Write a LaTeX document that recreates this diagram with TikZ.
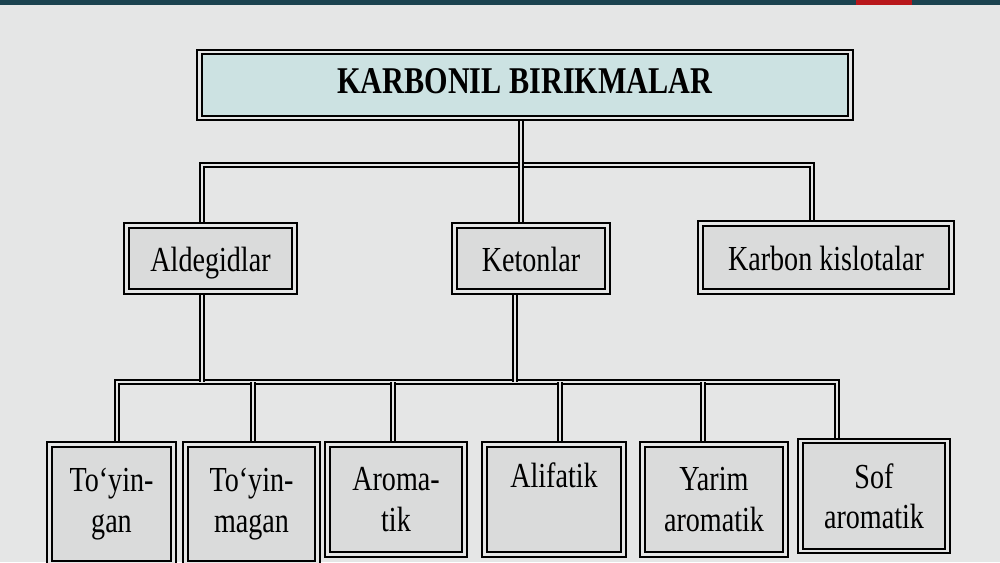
\documentclass[tikz,border=0pt]{standalone}
\usepackage{fontspec}
\setmainfont{Liberation Serif}[FakeStretch=0.8]
\usetikzlibrary{backgrounds}
\definecolor{paper}{RGB}{229,230,230}
\definecolor{boxgray}{RGB}{218,219,219}
\definecolor{titleblue}{RGB}{204,226,226}
\definecolor{slidebar}{RGB}{27,67,80}
\definecolor{slidered}{RGB}{184,23,27}

\begin{document}
\begin{tikzpicture}[x=0.2mm,y=-0.2mm,
    box/.style={draw=black,line width=1.15pt,double=paper,double distance=1.2pt,
                fill=boxgray,inner sep=0pt,align=center,font=\fontsize{20}{23}\selectfont},
    midbox/.style={box,text height=15pt,text depth=0pt},
    link/.style={draw=black,line width=1pt,double=paper,double distance=1.1pt}]
    \useasboundingbox (0,0) rectangle (1000,562);
    \clip (0,0) rectangle (1000,562);

    \coordinate (A) at (521,165);
    \coordinate (B) at (202,165);
    \coordinate (C) at (812,165);
    \coordinate (D) at (202,382);
    \coordinate (E) at (515,382);
    \coordinate (F1) at (117,382);
    \coordinate (F2) at (253,382);
    \coordinate (F3) at (393,382);
    \coordinate (F4) at (560,382);
    \coordinate (F5) at (703,382);
    \coordinate (F6) at (837,382);

    \node[box,fill=titleblue,minimum width=130.2mm,minimum height=13.2mm,
          text height=14.5pt,text depth=4.9pt,
          font=\bfseries\fontsize{21.5}{24}\selectfont] (top) at (525,85) {KARBONIL BIRIKMALAR};

    \node[midbox,minimum width=33.6mm,minimum height=13.2mm] (ald) at (210.5,258.5) {Aldegidlar};
    \node[midbox,minimum width=30.6mm,minimum height=13.2mm] (ket) at (531,258.5) {Ketonlar};
    \node[midbox,minimum width=50.2mm,minimum height=13.6mm] (kis) at (826,257.5) {Karbon kislotalar};

    \node[box,minimum width=24.8mm,minimum height=23.8mm] (t1) at (111.5,504) {To‘yin-\\gan};
    \node[box,minimum width=26.4mm,minimum height=23.8mm] (t2) at (251.5,504) {To‘yin-\\magan};
    \node[box,minimum width=27.4mm,minimum height=22mm] (t3) at (396,499.5) {Aroma-\\tik};
    \node[box,minimum width=27.8mm,minimum height=22mm] (t4) at (554,499.5) {Alifatik\\\vphantom{g}};
    \node[box,minimum width=28.6mm,minimum height=22mm] (t5) at (714,499.5) {Yarim\\aromatik};
    \node[box,minimum width=29.4mm,minimum height=22mm] (t6) at (874,496) {Sof\\aromatik};

    \begin{pgfonlayer}{background}
        \fill[paper] (0,0) rectangle (1000,562);
        \fill[slidebar] (0,0) rectangle (1000,5);
        \fill[slidered] (856,0) rectangle (912,5);

        % upper level
        \draw[link] (ald.north -| B) |- (C) -- (kis.north -| C);
        \draw[link] (top.south -| A) -- (ket.north -| A);

        % lower level
        \draw[link] (t1.north -| F1) |- (F6) -- (t6.north -| F6);
        \foreach \i in {2,...,5}
            \draw[link] (F\i) -- (t\i.north -| F\i);
        \draw[link] (ald.south -| D) -- (D);
        \draw[link] (ket.south -| E) -- (E);
    \end{pgfonlayer}
\end{tikzpicture}
\end{document}
